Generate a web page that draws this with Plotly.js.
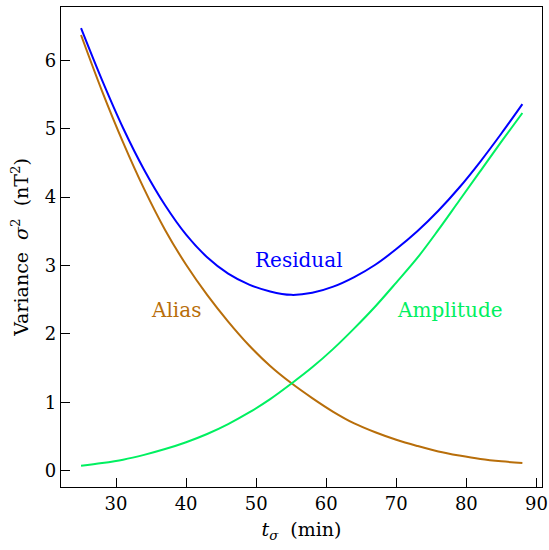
<!DOCTYPE html>
<html>
<head>
<meta charset="utf-8">
<script src="https://cdn.plot.ly/plotly-3.0.1.min.js"></script>
<style>html,body{margin:0;padding:0;background:#fff;}#chart{width:549px;height:550px;}</style>
</head>
<body>
<div id="chart"></div>
<script>
const tSigma = [25, 28, 31, 34, 37, 40, 43, 46, 49, 52, 55, 58, 61, 64, 67, 70, 73, 76, 79, 82, 85, 88];
const residual = [6.47, 5.71, 5.01, 4.40, 3.88, 3.45, 3.12, 2.88, 2.72, 2.62, 2.57, 2.60, 2.69, 2.83, 3.01, 3.24, 3.50, 3.80, 4.14, 4.52, 4.93, 5.36];
const alias = [6.37, 5.55, 4.80, 4.12, 3.52, 3.01, 2.57, 2.18, 1.83, 1.53, 1.28, 1.06, 0.86, 0.69, 0.56, 0.45, 0.36, 0.28, 0.22, 0.17, 0.135, 0.11];
const amplitude = [0.07, 0.11, 0.16, 0.23, 0.315, 0.415, 0.535, 0.68, 0.85, 1.045, 1.27, 1.51, 1.78, 2.08, 2.40, 2.75, 3.11, 3.52, 3.95, 4.38, 4.81, 5.23];
const xTicks = [30, 40, 50, 60, 70, 80, 90];
const yTicks = [0, 1, 2, 3, 4, 5, 6];
const seriesNames = ['Residual', 'Alias', 'Amplitude'];
const colors = ['#0000ff', '#b86e0a', '#00f060'];
const labelPos = [[56.05, 3.08], [38.55, 2.35], [77.6, 2.35]];

const font = 'DejaVu Serif, Liberation Serif, serif';
const ys = [residual, alias, amplitude];
const traces = ys.map((y, i) => ({
  x: tSigma, y: y, type: 'scatter', mode: 'lines', name: seriesNames[i],
  line: {color: colors[i], width: 2, shape: 'spline', smoothing: 1},
  hoverinfo: 'skip'
}));
const annotations = seriesNames.map((n, i) => ({
  x: labelPos[i][0], y: labelPos[i][1], xref: 'x', yref: 'y', text: n,
  showarrow: false, font: {family: font, size: 20, color: colors[i]}
}));
const layout = {
  width: 549, height: 550,
  margin: {l: 61, r: 7, t: 7, b: 63},
  paper_bgcolor: '#fff', plot_bgcolor: '#fff',
  showlegend: false,
  font: {family: font, size: 19, color: '#000'},
  xaxis: {
    range: [22.14, 90.8], tickvals: xTicks, ticktext: xTicks.map(String),
    ticks: 'inside', ticklen: 9, tickwidth: 1, tickcolor: '#000',
    showline: true, linecolor: '#000', linewidth: 1.2, mirror: true,
    showgrid: false, zeroline: false,
    tickfont: {family: font, size: 18},
    title: {text: '<i>t</i><sub><i>σ</i></sub>  (min)', font: {family: font, size: 19}, standoff: 10}
  },
  yaxis: {
    range: [-0.24, 6.78], tickvals: yTicks, ticktext: yTicks.map(String),
    ticks: 'inside', ticklen: 9, tickwidth: 1, tickcolor: '#000',
    showline: true, linecolor: '#000', linewidth: 1.2, mirror: true,
    showgrid: false, zeroline: false,
    tickfont: {family: font, size: 18},
    title: {text: 'Variance  <i>σ</i><sup>2</sup>  (nT<sup>2</sup>)', font: {family: font, size: 19}, standoff: 11}
  },
  annotations: annotations
};
Plotly.newPlot('chart', traces, layout, {displayModeBar: false, staticPlot: true});
</script>
</body>
</html>
